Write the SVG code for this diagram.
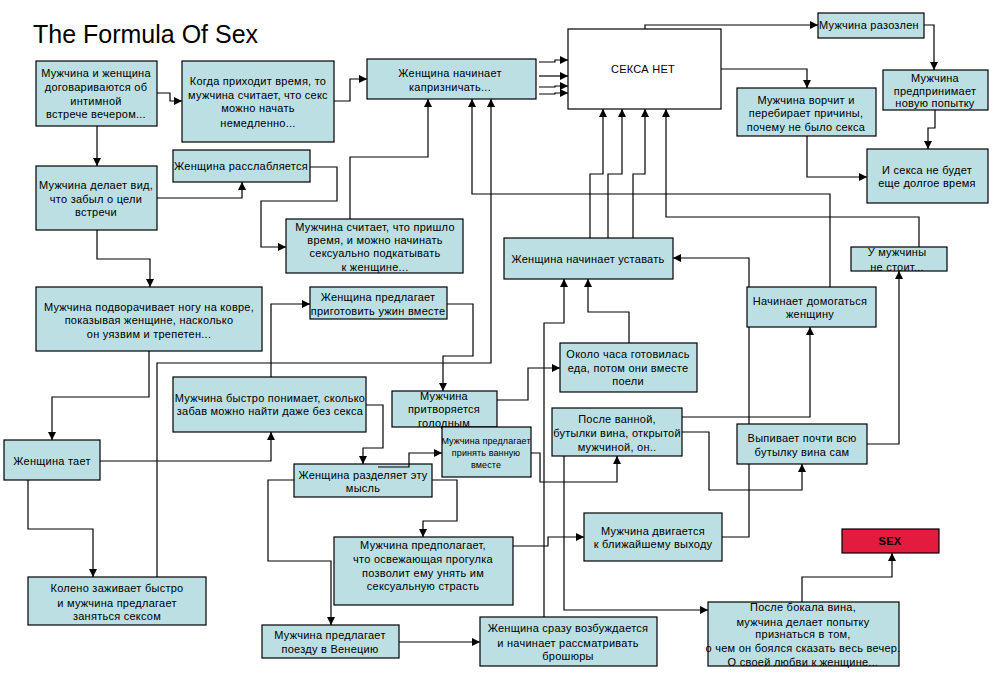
<svg xmlns="http://www.w3.org/2000/svg" width="1000" height="680" viewBox="0 0 1000 680">
<defs>
<marker id="ah" markerWidth="8" markerHeight="8" refX="8" refY="4" orient="auto" markerUnits="userSpaceOnUse"><path d="M0,0 L8,4 L0,8 z" fill="#000"/></marker>
<style>
.b{fill:#BBDFE3;stroke:#000;stroke-width:1.2}
.w{fill:#fff;stroke:#000;stroke-width:1.2}
.r{fill:#E31B3F;stroke:#000;stroke-width:1.2}
.t{font-family:"Liberation Sans",Arial,sans-serif;font-size:11px;fill:#000;text-anchor:middle;letter-spacing:0.25px}
.s{font-size:9px;letter-spacing:0.1px}
.c polyline{fill:none;stroke:#000;stroke-width:1.2;marker-end:url(#ah)}
</style>
</defs>
<rect width="1000" height="680" fill="#fff"/>
<text x="33" y="43" font-family="'Liberation Sans',Arial,sans-serif" font-size="25">The Formula Of Sex</text>
<g class="c" id="connectors">
<polyline points="157,93 170,93 170,101 182,101"/>
<polyline points="97,126 97,166"/>
<polyline points="334,101 350,101 350,79 367,79"/>
<polyline points="157,198 242,198 242,182"/>
<polyline points="310,167 337,167 337,201 261,201 261,247 286,247"/>
<polyline points="350,219 350,157 428,157 428,99"/>
<polyline points="97,230 97,259 150,259 150,287"/>
<polyline points="149,351 149,397 52,397 52,440"/>
<polyline points="28,480 28,529 93,529 93,577"/>
<polyline points="100,461 271,461 271,432"/>
<polyline points="157,577 157,363 491,363 491,99"/>
<polyline points="271,377 271,304 310,304"/>
<polyline points="447,304 473,304 473,356 443,356 443,391"/>
<polyline points="497,400 528,400 528,368 560,368"/>
<polyline points="629,343 629,312 588,312 588,279"/>
<polyline points="544,617 544,323 564,323 564,279"/>
<polyline points="590,238 590,174 603,174 603,109"/>
<polyline points="608,238 608,174 622,174 622,109"/>
<polyline points="633,238 633,174 645,174 645,109"/>
<polyline points="919,247 919,217 666,217 666,109"/>
<polyline points="830,287 830,194 472,194 472,99"/>
<polyline points="645,29 645,25 818,25"/>
<polyline points="721,69 807,69 807,88"/>
<polyline points="924,25 934,25 934,70"/>
<polyline points="935,110 935,128 928,128 928,149"/>
<polyline points="807,136 807,177 867,177"/>
<polyline points="722,537 749,537 749,258 673,258"/>
<polyline points="682,417 810,417 810,327"/>
<polyline points="682,432 709,432 709,490 802,490 802,464"/>
<polyline points="867,444 899,444 899,271"/>
<polyline points="564,456 564,610 708,610"/>
<polyline points="531,453 540,453 540,482 617,482 617,456"/>
<polyline points="366,405 383,405 383,448 363,448 363,464"/>
<polyline points="432,480 457,480 457,521 423,521 423,537"/>
<polyline points="294,480 268,480 268,561 331,561 331,625"/>
<polyline points="513,546 548,546 548,537 584,537"/>
<polyline points="399,642 480,642"/>
<polyline points="802,602 802,577 892,577 892,553"/>
<polyline points="539,62 555,62 555,60 568,60"/>
<polyline points="539,76 568,76"/>
<polyline points="539,87 555,87 555,86 568,86"/>
<polyline points="539,94 555,94 555,93 568,93"/>
</g>
<g id="n1"><rect class="b" x="36" y="61" width="121" height="65"/><text class="t"><tspan x="96" y="77">Мужчина и женщина</tspan><tspan x="96" y="91">договариваются об</tspan><tspan x="96" y="105">интимной</tspan><tspan x="96" y="118">встрече вечером...</tspan></text></g>
<g id="n2"><rect class="b" x="182" y="61" width="152" height="81"/><text class="t"><tspan x="258" y="85">Когда приходит время, то</tspan><tspan x="258" y="99">мужчина считает, что секс</tspan><tspan x="258" y="112">можно начать</tspan><tspan x="258" y="127">немедленно...</tspan></text></g>
<g id="n3"><rect class="b" x="367" y="59" width="169" height="40"/><text class="t"><tspan x="450" y="77">Женщина начинает</tspan><tspan x="450" y="91">капризничать...</tspan></text></g>
<g id="n4"><rect class="w" x="568" y="29" width="153" height="80"/><text class="t" x="643" y="73">СЕКСА НЕТ</text></g>
<g id="n5"><rect class="b" x="818" y="13" width="106" height="25"/><text class="t" x="869" y="29">Мужчина разозлен</text></g>
<g id="n6"><rect class="b" x="883" y="70" width="105" height="40"/><text class="t"><tspan x="935" y="82">Мужчина</tspan><tspan x="935" y="95">предпринимает</tspan><tspan x="935" y="107">новую попытку</tspan></text></g>
<g id="n7"><rect class="b" x="867" y="149" width="121" height="54"/><text class="t"><tspan x="927" y="174">И секса не будет</tspan><tspan x="927" y="187">еще долгое время</tspan></text></g>
<g id="n8"><rect class="b" x="737" y="88" width="139" height="48"/><text class="t"><tspan x="806" y="104">Мужчина ворчит и</tspan><tspan x="806" y="117">перебирает причины,</tspan><tspan x="806" y="131">почему не было секса</tspan></text></g>
<g id="n9"><rect class="b" x="173" y="150" width="137" height="32"/><text class="t" x="241" y="170">Женщина расслабляется</text></g>
<g id="n10"><rect class="b" x="36" y="166" width="121" height="64"/><text class="t"><tspan x="96" y="189">Мужчина делает вид,</tspan><tspan x="96" y="203">что забыл о цели</tspan><tspan x="96" y="216">встречи</tspan></text></g>
<g id="n11"><rect class="b" x="286" y="219" width="177" height="54"/><text class="t"><tspan x="375" y="231">Мужчина считает, что пришло</tspan><tspan x="375" y="244">время, и можно начинать</tspan><tspan x="375" y="257">сексуально подкатывать</tspan><tspan x="375" y="271">к женщине...</tspan></text></g>
<g id="n12"><rect class="b" x="36" y="287" width="226" height="64"/><text class="t"><tspan x="149" y="311">Мужчина подворачивает ногу на ковре,</tspan><tspan x="149" y="324">показывая женщине, насколько</tspan><tspan x="149" y="338">он уязвим и трепетен...</tspan></text></g>
<g id="n13"><rect class="b" x="4" y="440" width="96" height="40"/><text class="t" x="52" y="465">Женщина тает</text></g>
<g id="n14"><rect class="b" x="28" y="577" width="178" height="48"/><text class="t"><tspan x="117" y="592">Колено заживает быстро</tspan><tspan x="117" y="607">и мужчина предлагает</tspan><tspan x="117" y="620">заняться сексом</tspan></text></g>
<g id="n15"><rect class="b" x="173" y="377" width="193" height="55"/><text class="t"><tspan x="270" y="402">Мужчина быстро понимает, сколько</tspan><tspan x="270" y="415">забав можно найти даже без секса</tspan></text></g>
<g id="n16"><rect class="b" x="310" y="287" width="137" height="32"/><text class="t"><tspan x="378" y="301">Женщина предлагает</tspan><tspan x="378" y="315">приготовить ужин вместе</tspan></text></g>
<g id="n17"><rect class="b" x="392" y="391" width="105" height="36"/><text class="t"><tspan x="444" y="400">Мужчина</tspan><tspan x="444" y="413">притворяется</tspan><tspan x="444" y="427">голодным</tspan></text></g>
<g id="n18"><rect class="b" x="560" y="343" width="137" height="49"/><text class="t"><tspan x="628" y="358">Около часа готовилась</tspan><tspan x="628" y="372">еда, потом они вместе</tspan><tspan x="628" y="385">поели</tspan></text></g>
<g id="n19"><rect class="b" x="504" y="238" width="169" height="41"/><text class="t" x="588" y="263">Женщина начинает уставать</text></g>
<g id="n20"><rect class="b" x="747" y="287" width="129" height="40"/><text class="t"><tspan x="810" y="305">Начинает домогаться</tspan><tspan x="810" y="318">женщину</tspan></text></g>
<g id="n21"><rect class="b" x="851" y="247" width="96" height="24"/><text class="t"><tspan x="897" y="256">У мужчины</tspan><tspan x="897" y="271">не стоит...</tspan></text></g>
<g id="n22"><rect class="b" x="552" y="408" width="130" height="48"/><text class="t"><tspan x="617" y="423">После ванной,</tspan><tspan x="617" y="437">бутылки вина, открытой</tspan><tspan x="617" y="451">мужчиной, он..</tspan></text></g>
<g id="n23"><rect class="b" x="737" y="424" width="130" height="40"/><text class="t"><tspan x="802" y="442">Выпивает почти всю</tspan><tspan x="802" y="456">бутылку вина сам</tspan></text></g>
<g id="n24"><rect class="b" x="442" y="427" width="89" height="50"/><text class="t s"><tspan x="486" y="444">Мужчина предлагает</tspan><tspan x="486" y="456">принять ванную</tspan><tspan x="486" y="468">вместе</tspan></text></g>
<g id="n25"><rect class="b" x="294" y="464" width="138" height="33"/><text class="t"><tspan x="363" y="479">Женщина разделяет эту</tspan><tspan x="363" y="492">мысль</tspan></text></g>
<g id="n26"><rect class="b" x="334" y="537" width="179" height="68"/><text class="t"><tspan x="423" y="549">Мужчина предполагает,</tspan><tspan x="423" y="563">что освежающая прогулка</tspan><tspan x="423" y="577">позволит ему унять им</tspan><tspan x="423" y="590">сексуальную страсть</tspan></text></g>
<g id="n27"><rect class="b" x="584" y="513" width="138" height="48"/><text class="t"><tspan x="653" y="535">Мужчина двигается</tspan><tspan x="653" y="548">к ближайшему выходу</tspan></text></g>
<g id="n28"><rect class="b" x="262" y="625" width="137" height="33"/><text class="t"><tspan x="330" y="639">Мужчина предлагает</tspan><tspan x="330" y="653">поезду в Венецию</tspan></text></g>
<g id="n29"><rect class="b" x="480" y="617" width="177" height="49"/><text class="t"><tspan x="568" y="632">Женщина сразу возбуждается</tspan><tspan x="568" y="647">и начинает рассматривать</tspan><tspan x="568" y="660">брошюры</tspan></text></g>
<g id="n30"><rect class="b" x="708" y="602" width="191" height="64"/><text class="t"><tspan x="803" y="611">После бокала вина,</tspan><tspan x="803" y="626">мужчина делает попытку</tspan><tspan x="803" y="638">признаться в том,</tspan><tspan x="803" y="652">о чем он боялся сказать весь вечер.</tspan><tspan x="803" y="666">О своей любви к женщине...</tspan></text></g>
<g id="n31"><rect class="r" x="842" y="529" width="97" height="24"/><text class="t" x="890" y="545" font-weight="bold" font-size="10" fill="#222">SEX</text></g>
<g class="c" id="connectors-over">
<polyline points="378,467 409,467 409,453 442,453"/>
</g>
</svg>
